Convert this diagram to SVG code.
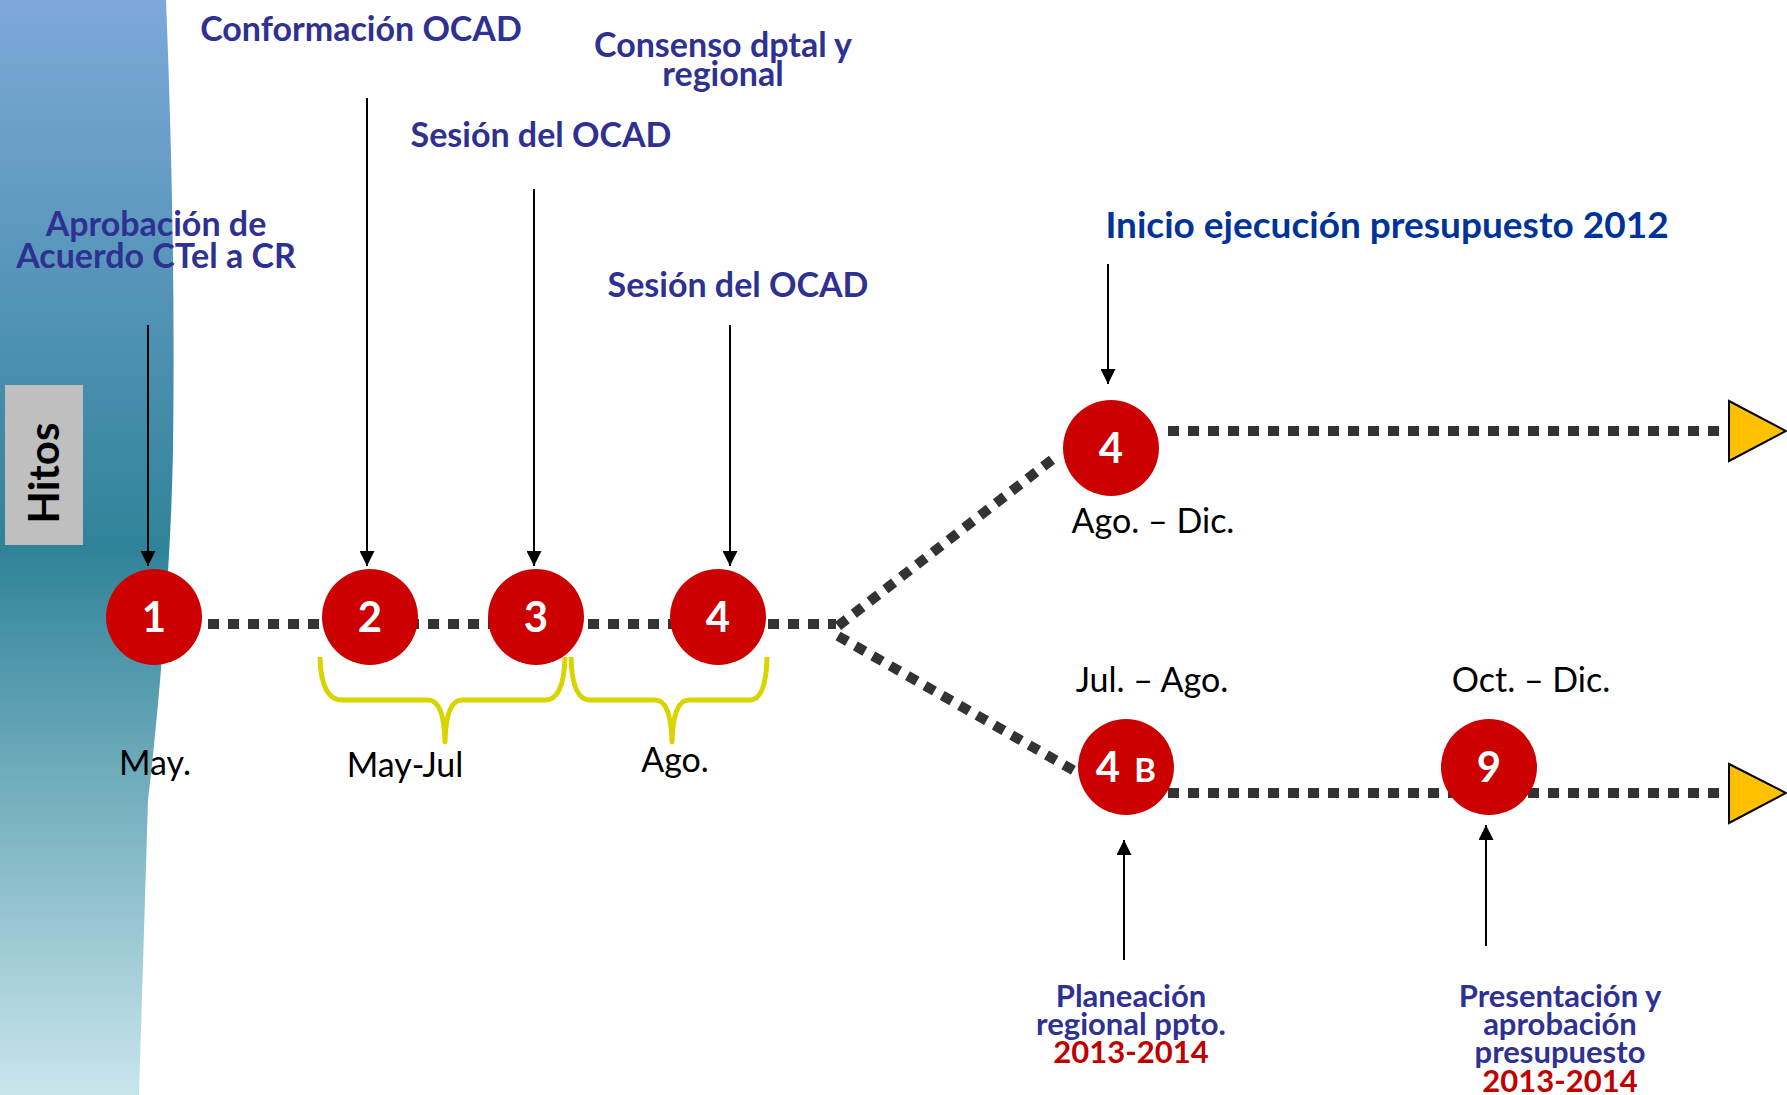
<svg xmlns="http://www.w3.org/2000/svg" width="1787" height="1095" viewBox="0 0 1787 1095">
<defs>
<linearGradient id="bg" x1="0" y1="0" x2="0" y2="1">
<stop offset="0" stop-color="#7EA8D9"/>
<stop offset="0.5" stop-color="#2F8399"/>
<stop offset="1" stop-color="#C9E5EC"/>
</linearGradient>
<marker id="ah" viewBox="0 0 10 10" refX="10" refY="5" markerWidth="7.5" markerHeight="7.5" orient="auto" markerUnits="strokeWidth">
<path d="M0,0 L10,5 L0,10 Z" fill="#000"/>
</marker>
<style>
.lbl{font-family:Lato,"Liberation Sans",sans-serif;font-weight:bold;fill:#2E3192;font-size:34px;text-anchor:middle}
.sm{font-size:31px}
.yr{fill:#C00000}
.date{font-family:Lato,"Liberation Sans",sans-serif;fill:#000;font-size:34px;text-anchor:middle}
.num{font-family:Lato,"Liberation Sans",sans-serif;font-weight:bold;fill:#fff;font-size:42px;text-anchor:middle}
.dot{fill:none;stroke:#333333;stroke-width:10;stroke-dasharray:11 9}
.arr{fill:none;stroke:#000;stroke-width:2;marker-end:url(#ah)}
.node{fill:#CC0000}
.brace{fill:none;stroke:#D9D400;stroke-width:5;stroke-linejoin:round}
.tri{fill:#FFC000;stroke:#000;stroke-width:2}
</style>
</defs>
<rect width="1787" height="1095" fill="#fff"/>
<path d="M0,0 L166,0 C172,150 175,300 173,450 C171,560 160,700 148,800 L139,1095 L0,1095 Z" fill="url(#bg)"/>
<g id="hitos">
<rect x="5" y="385" width="78" height="160" fill="#BFBFBF"/>
<text transform="translate(59,473) rotate(-90)" style="font-family:Lato,'Liberation Sans',sans-serif;font-weight:bold;font-size:42px;fill:#000;text-anchor:middle">Hitos</text>
</g>
<g id="connectors">
<path class="dot" d="M208,624 L836,624"/>
<path class="dot" d="M838,626 L1058,455"/>
<path class="dot" d="M838,636 L1080,774"/>
<path class="dot" d="M1168,431 L1729,431"/>
<path class="dot" d="M1168,793 L1729,793"/>
<polygon class="tri" points="1729,401 1786,431 1729,461"/>
<polygon class="tri" points="1729,764 1786,793 1729,823"/>
<path class="arr" d="M148,325 L148,566"/>
<path class="arr" d="M367,98 L367,566"/>
<path class="arr" d="M534,189 L534,566"/>
<path class="arr" d="M730,325 L730,566"/>
<path class="arr" d="M1108,264 L1108,384"/>
<path class="arr" d="M1124,960 L1124,840"/>
<path class="arr" d="M1486,946 L1486,825"/>
<path class="brace" d="M320,657 Q321,700 342,700 L428,700 Q444,700 445,742 Q446,700 462,700 L545,700 Q564,700 565,657"/>
<path class="brace" d="M571,657 Q572,700 590,700 L655,700 Q671,700 672,742 Q673,700 689,700 L750,700 Q766,700 767,657"/>
</g>
<g id="n1"><circle class="node" cx="154" cy="617" r="48"/><text class="num" x="154" y="632">1</text></g>
<g id="n2"><circle class="node" cx="370" cy="617" r="48"/><text class="num" x="370" y="632">2</text></g>
<g id="n3"><circle class="node" cx="536" cy="617" r="48"/><text class="num" x="536" y="632">3</text></g>
<g id="n4"><circle class="node" cx="718" cy="617" r="48"/><text class="num" x="718" y="632">4</text></g>
<g id="n4top"><circle class="node" cx="1111" cy="448" r="48"/><text class="num" x="1111" y="463">4</text></g>
<g id="n4b"><circle class="node" cx="1126" cy="767" r="48"/><text class="num" x="1108" y="782">4</text><text class="num" x="1145" y="782" style="font-size:33px">B</text></g>
<g id="n9"><circle class="node" cx="1489" cy="767" r="48"/><text class="num" x="1489" y="782">9</text></g>
<g id="labels">
<text class="lbl" x="361" y="41">Conformación OCAD</text>
<text class="lbl" x="723" y="57">Consenso dptal y</text>
<text class="lbl" x="723" y="86">regional</text>
<text class="lbl" x="541" y="147">Sesión del OCAD</text>
<text class="lbl" x="156" y="236">Aprobación de</text>
<text class="lbl" x="156" y="268">Acuerdo CTel a CR</text>
<text class="lbl" x="738" y="297">Sesión del OCAD</text>
<text class="lbl" x="1387" y="238" style="fill:#003399;font-size:37px">Inicio ejecución presupuesto 2012</text>
<text class="date" x="155" y="775">May.</text>
<text class="date" x="405" y="777">May-Jul</text>
<text class="date" x="675" y="772">Ago.</text>
<text class="date" x="1153" y="533">Ago. – Dic.</text>
<text class="date" x="1152" y="692">Jul. – Ago.</text>
<text class="date" x="1531" y="692">Oct. – Dic.</text>
<text class="lbl sm" x="1131" y="1007">Planeación</text>
<text class="lbl sm" x="1131" y="1035">regional ppto.</text>
<text class="lbl sm yr" x="1131" y="1063">2013-2014</text>
<text class="lbl sm" x="1560" y="1007">Presentación y</text>
<text class="lbl sm" x="1560" y="1035">aprobación</text>
<text class="lbl sm" x="1560" y="1063">presupuesto</text>
<text class="lbl sm yr" x="1560" y="1092">2013-2014</text>
</g>
</svg>
